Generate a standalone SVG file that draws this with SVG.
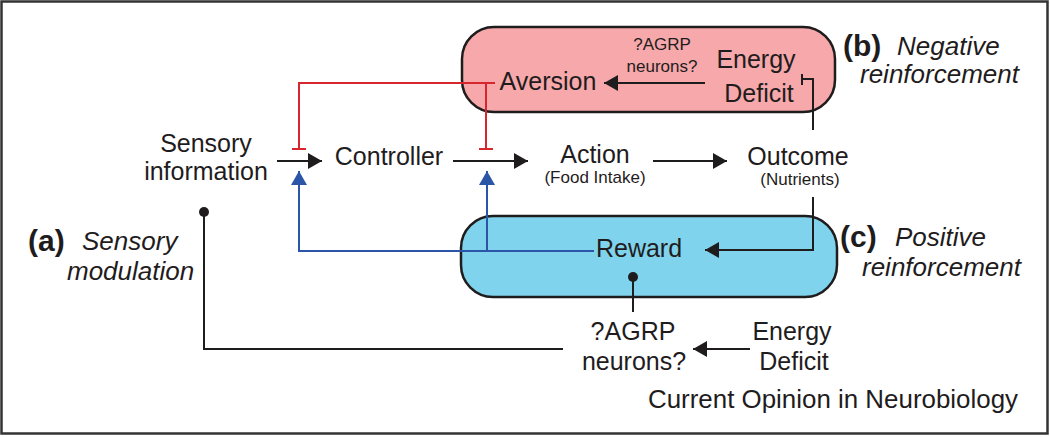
<svg xmlns="http://www.w3.org/2000/svg" width="1050" height="437" viewBox="0 0 1050 437">
<style>
text{font-family:"Liberation Sans",Arial,sans-serif;fill:#1f1c1d}
.n{font-size:25px;text-anchor:middle}
.s{font-size:17px;text-anchor:middle}
.i{font-size:26px;font-style:italic}
.b{font-size:30px;font-weight:bold}
.k{stroke:#1f1c1d;stroke-width:2;fill:none}
.r{stroke:#d8262e;stroke-width:2;fill:none}
.bl{stroke:#2b55a6;stroke-width:2;fill:none}
</style>
<defs>
<marker id="ah" viewBox="0 0 14 16" refX="14" refY="8" markerWidth="14" markerHeight="16" markerUnits="userSpaceOnUse" orient="auto"><path d="M0,0L14,8L0,16Z" fill="#1f1c1d"/></marker>
<marker id="bh" viewBox="0 0 14 16" refX="14" refY="8" markerWidth="14" markerHeight="16" markerUnits="userSpaceOnUse" orient="auto"><path d="M0,0L14,8L0,16Z" fill="#2b55a6"/></marker>
</defs>
<rect x="1.5" y="1.5" width="1046" height="432" fill="#fff" stroke="#333" stroke-width="2.5"/>
<g id="boxB"><rect x="462" y="27" width="373" height="85" rx="32" fill="#f6a8aa" stroke="#1f1c1d" stroke-width="2.5"/></g>
<g id="boxC"><rect x="461" y="216" width="376" height="81" rx="32" fill="#80d3ec" stroke="#1f1c1d" stroke-width="2.5"/></g>
<g id="connectors">
<path class="k" d="M277,161H322" marker-end="url(#ah)"/>
<path class="k" d="M453,161H528" marker-end="url(#ah)"/>
<path class="k" d="M653,161H727" marker-end="url(#ah)"/>
<path class="k" d="M705,83H604" marker-end="url(#ah)"/>
<path class="k" d="M813,130V79H802M802,74V85"/>
<path class="k" d="M813,197V250H705" marker-end="url(#ah)"/>
<path class="k" d="M633,277V312"/>
<circle cx="633" cy="277" r="5" fill="#1f1c1d"/>
<path class="k" d="M750,349H693" marker-end="url(#ah)"/>
<path class="k" d="M563,349H204V212"/>
<circle cx="204" cy="212" r="5" fill="#1f1c1d"/>
<path class="r" d="M495,83H299V149M292,149H306M486,83V149M479,149H493"/>
<path class="bl" d="M594,251H299V171" marker-end="url(#bh)"/>
<path class="bl" d="M487,251V171" marker-end="url(#bh)"/>
</g>
<g id="sensory"><text class="n" x="206" y="152">Sensory</text><text class="n" x="206" y="180">information</text></g>
<g id="controller"><text class="n" x="389" y="165">Controller</text></g>
<g id="action"><text class="n" x="595" y="163">Action</text><text class="s" x="595" y="183">(Food Intake)</text></g>
<g id="outcome"><text class="n" x="798" y="165">Outcome</text><text class="s" x="800" y="185">(Nutrients)</text></g>
<g id="aversion"><text class="n" x="548" y="90">Aversion</text></g>
<g id="agrpTop"><text class="s" x="662" y="50">?AGRP</text><text class="s" x="662" y="72">neurons?</text></g>
<g id="energyTop"><text class="n" x="756" y="68">Energy</text><text class="n" x="759" y="102">Deficit</text></g>
<g id="reward"><text class="n" x="639" y="257">Reward</text></g>
<g id="agrpBottom"><text class="n" x="633" y="340">?AGRP</text><text class="n" x="634" y="370">neurons?</text></g>
<g id="energyBottom"><text class="n" x="792" y="340">Energy</text><text class="n" x="794" y="370">Deficit</text></g>
<g id="labelA"><text class="b" x="28" y="251">(a)</text><text class="i" x="82" y="250">Sensory</text><text class="i" x="67" y="280">modulation</text></g>
<g id="labelB"><text class="b" x="843" y="56">(b)</text><text class="i" x="897" y="55">Negative</text><text class="i" x="860" y="83">reinforcement</text></g>
<g id="labelC"><text class="b" x="840" y="247">(c)</text><text class="i" x="895" y="246">Positive</text><text class="i" x="862" y="276">reinforcement</text></g>
<text x="648" y="408" font-size="25" textLength="370" lengthAdjust="spacingAndGlyphs">Current Opinion in Neurobiology</text>
</svg>
